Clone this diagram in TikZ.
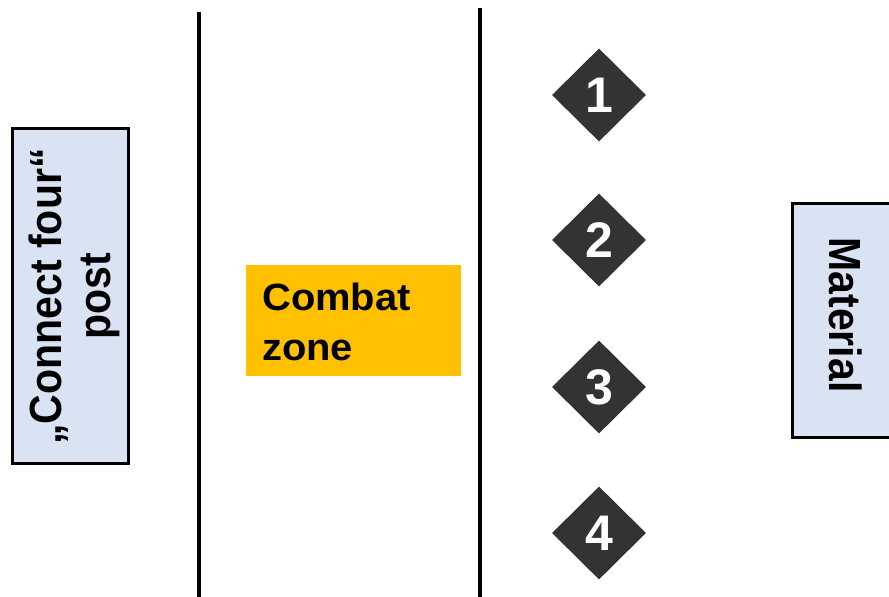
\documentclass[tikz,border=0pt]{standalone}
\usepackage{fontspec}
\setmainfont{Liberation Sans}
\usetikzlibrary{shapes.geometric}
\definecolor{boxblue}{HTML}{DAE3F3}
\definecolor{zoneorange}{HTML}{FFC000}
\definecolor{diagray}{HTML}{333333}
\tikzset{
  sidebox/.style={draw=black, line width=3pt, fill=boxblue, inner sep=0pt},
  sidetext/.style={inner sep=0pt, font=\fontsize{41}{45}\selectfont\bfseries},
  numdia/.style={diamond, fill=diagray, minimum width=94pt, minimum height=93pt,
    inner sep=0pt, text=white, font=\fontsize{50}{50}\selectfont\bfseries},
  divider/.style={line width=4pt, black}
}
\begin{document}
\begin{tikzpicture}[x=1pt,y=-1pt]
\useasboundingbox (0,0) rectangle (889,597);
% left box
\node[sidebox, minimum width=116pt, minimum height=335pt] (post) at (70,295.5) {};
\node[sidetext, rotate=90] (posttext) at (76,296.5)
  {\scalebox{1}[1.1]{\begin{tabular}{@{}c@{}}„Connect four“\\post\end{tabular}}};
% right box
\node[sidebox, minimum width=120pt, minimum height=234pt] (mat) at (852.5,320) {};
\node[sidetext, rotate=-90] (mattext) at (846,315) {\scalebox{1}[1.1]{Material}};
% dividers
\coordinate (d1t) at (199,12);
\coordinate (d1b) at (199,600);
\coordinate (d2t) at (480,8);
\coordinate (d2b) at (480,600);
\draw[divider] (d1t) -- (d1b);
\draw[divider] (d2t) -- (d2b);
% combat zone
\node[fill=zoneorange, minimum width=215pt, minimum height=111pt, inner sep=0pt] (zone) at (353.5,320.5) {};
\node[anchor=west, inner sep=0pt, font=\fontsize{38}{50}\selectfont\bfseries] (zonetext) at (262,325)
  {\scalebox{1.05}[1]{\begin{tabular}{@{}l@{}}Combat\\zone\end{tabular}}};
% diamonds
\node[numdia] (n1) at (599,95) {1};
\node[numdia] (n2) at (599,240) {2};
\node[numdia] (n3) at (599,387) {3};
\node[numdia] (n4) at (599,533) {4};
\end{tikzpicture}
\end{document}
